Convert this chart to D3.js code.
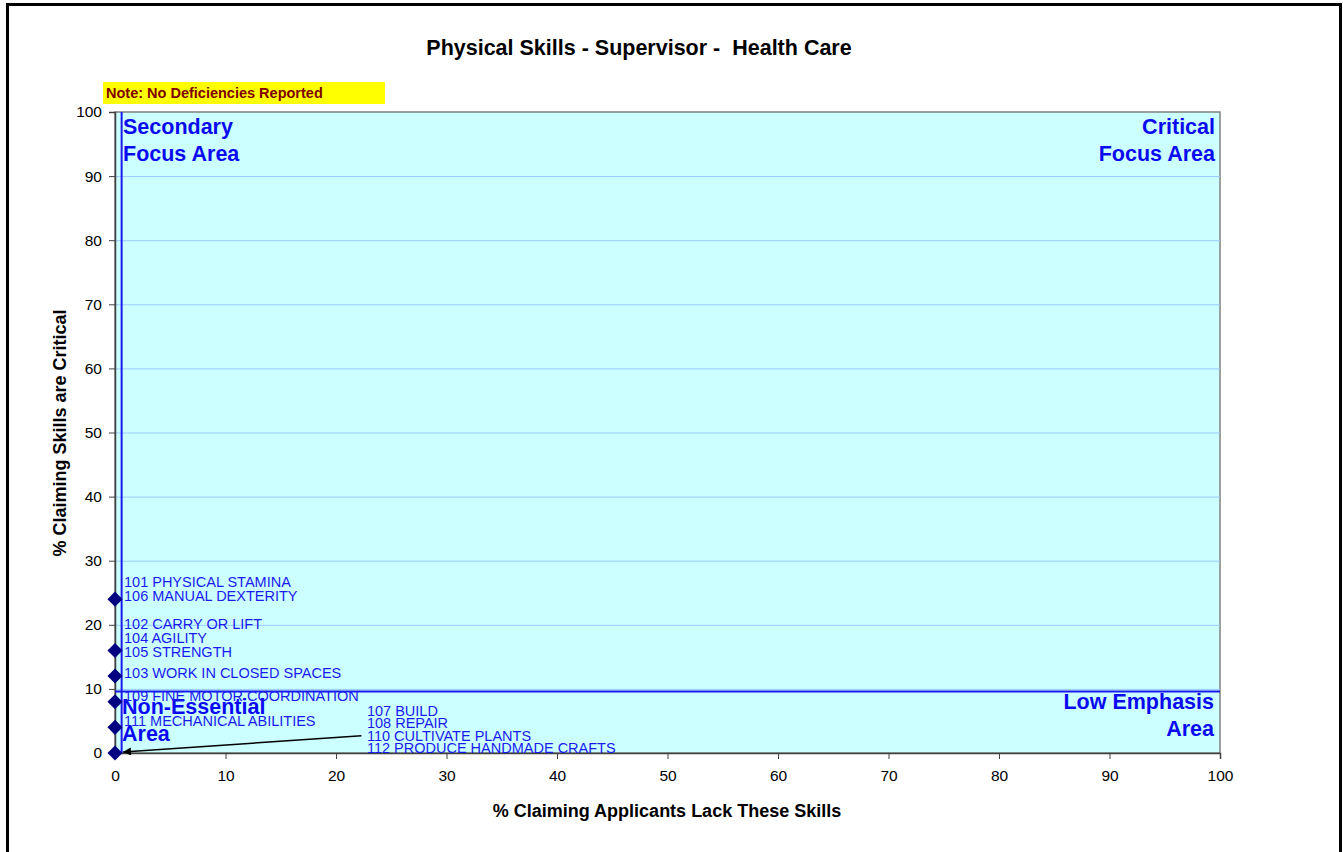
<!DOCTYPE html>
<html>
<head>
<meta charset="utf-8">
<script src="https://cdn.jsdelivr.net/npm/d3@7"></script>
<style>
  body { margin: 0; background: #fff; }
  svg text { font-family: "Liberation Sans", Arial, sans-serif; }
</style>
</head>
<body>
<svg id="chart" width="1343" height="852"></svg>
<script>
// skill data: code + name, % lacking (x), % critical (y)
const skillLabels = [
  "101 PHYSICAL STAMINA", "106 MANUAL DEXTERITY",
  "102 CARRY OR LIFT", "104 AGILITY", "105 STRENGTH",
  "103 WORK IN CLOSED SPACES",
  "109 FINE MOTOR COORDINATION",
  "111 MECHANICAL ABILITIES",
  "107 BUILD", "108 REPAIR", "110 CULTIVATE PLANTS", "112 PRODUCE HANDMADE CRAFTS"
];
const lackValues = [0, 0, 0, 0, 0, 0, 0, 0, 0, 0, 0, 0];
const criticalValues = [24, 24, 16, 16, 16, 12, 8, 4, 0, 0, 0, 0];

// quadrant dividers (averages)
const avgLack = 0.6;
const avgCritical = 9.6;

const xTicks = [0, 10, 20, 30, 40, 50, 60, 70, 80, 90, 100];
const yTicks = [0, 10, 20, 30, 40, 50, 60, 70, 80, 90, 100];

const chartTitle = "Physical Skills - Supervisor -  Health Care";
const noteText = "Note: No Deficiencies Reported";
const xTitle = "% Claiming Applicants Lack These Skills";
const yTitle = "% Claiming Skills are Critical";

const svg = d3.select("#chart");
const plot = { left: 115, right: 1220, top: 112, bottom: 753 };

const x = d3.scaleLinear().domain([0, 100]).range([plot.left, plot.right]);
const y = d3.scaleLinear().domain([0, 100]).range([plot.bottom, plot.top]);

// outer frame
svg.append("rect")
  .attr("x", 7.5).attr("y", 4.5)
  .attr("width", 1333).attr("height", 870)
  .attr("fill", "none").attr("stroke", "#000").attr("stroke-width", 3);

// title
svg.append("text")
  .attr("x", 639).attr("y", 55)
  .attr("text-anchor", "middle")
  .attr("font-size", 21.5).attr("font-weight", "bold")
  .style("white-space", "pre")
  .text(chartTitle);

// note box
svg.append("rect")
  .attr("x", 103).attr("y", 82).attr("width", 282).attr("height", 22)
  .attr("fill", "#ffff00");
svg.append("text")
  .attr("x", 106).attr("y", 98)
  .attr("font-size", 14.5).attr("font-weight", "bold")
  .attr("fill", "#800000")
  .text(noteText);

// plot background
svg.append("rect")
  .attr("x", plot.left).attr("y", plot.top)
  .attr("width", plot.right - plot.left).attr("height", plot.bottom - plot.top)
  .attr("fill", "#ccffff").attr("stroke", "#808080").attr("stroke-width", 1.5);

// gridlines
svg.append("g")
  .selectAll("line")
  .data(yTicks.filter(d => d > 0 && d < 100))
  .join("line")
  .attr("x1", plot.left).attr("x2", plot.right)
  .attr("y1", d => y(d) + 0.5).attr("y2", d => y(d) + 0.5)
  .attr("stroke", "#99ccff").attr("stroke-width", 1);

// axes
const xAxis = svg.append("g")
  .attr("transform", `translate(0,${plot.bottom})`)
  .call(d3.axisBottom(x).tickValues(xTicks).tickSize(6).tickPadding(11));
const yAxis = svg.append("g")
  .attr("transform", `translate(${plot.left},0)`)
  .call(d3.axisLeft(y).tickValues(yTicks).tickSize(6).tickPadding(7));

[xAxis, yAxis].forEach(g => {
  g.select(".domain").attr("stroke", "#404040").attr("stroke-width", 1.5);
  g.selectAll(".tick line").attr("stroke", "#404040");
  g.selectAll(".tick text")
    .attr("font-size", 15.5).attr("fill", "#000");
});

// quadrant divider lines
svg.append("line")
  .attr("x1", x(avgLack)).attr("x2", x(avgLack))
  .attr("y1", plot.top).attr("y2", plot.bottom)
  .attr("stroke", "#1a1aee").attr("stroke-width", 2);
svg.append("line")
  .attr("x1", plot.left).attr("x2", plot.right)
  .attr("y1", y(avgCritical)).attr("y2", y(avgCritical))
  .attr("stroke", "#1a1aee").attr("stroke-width", 2);

// quadrant labels
const quadColor = "#0a0af0";
function quadLabel(lines, xPos, yPos, anchor) {
  const t = svg.append("text")
    .attr("x", xPos).attr("y", yPos)
    .attr("text-anchor", anchor)
    .attr("font-size", 21.5).attr("font-weight", "bold")
    .attr("fill", quadColor);
  lines.forEach((l, i) => {
    t.append("tspan").attr("x", xPos).attr("dy", i === 0 ? 0 : 27).text(l);
  });
}
quadLabel(["Secondary", "Focus Area"], 123, 134, "start");
quadLabel(["Critical", "Focus Area"], 1215, 134, "end");
quadLabel(["Non-Essential", "Area"], 122, 714, "start");
quadLabel(["Low Emphasis", "Area"], 1214, 709, "end");

// group skills sharing a point
const points = d3.groups(
  skillLabels.map((name, i) => ({ name, lx: lackValues[i], ly: criticalValues[i] })),
  d => d.lx + "|" + d.ly
).map(([key, items]) => ({ lx: items[0].lx, ly: items[0].ly, items }));

// data labels
const labelColor = "#1a1aee";
const labelG = svg.append("g");
points.forEach(p => {
  const px = x(p.lx), py = y(p.ly);
  if (p.ly === 0) {
    // the crowded zero point gets a callout with an arrow
    const tx = x(22.8);
    const step = 12.4;
    p.items.forEach((d, i) => {
      labelG.append("text")
        .attr("x", tx).attr("y", py - (p.items.length - 1 - i) * step)
        .attr("font-size", 14.5).attr("fill", labelColor)
        .text(d.name);
    });
  } else {
    const step = 14;
    const nudge = p.ly <= 8 ? -3 : (p.ly === 16 ? 5 : 0);
    p.items.forEach((d, i) => {
      labelG.append("text")
        .attr("x", px + 9).attr("y", py + 2 + nudge - (p.items.length - 1 - i) * step)
        .attr("font-size", 14.5).attr("fill", labelColor)
        .text(d.name);
    });
  }
});

// arrow for zero point
svg.append("defs").append("marker")
  .attr("id", "arrow")
  .attr("viewBox", "0 0 10 10")
  .attr("refX", 10).attr("refY", 5)
  .attr("markerWidth", 10).attr("markerHeight", 8)
  .attr("markerUnits", "userSpaceOnUse")
  .attr("orient", "auto")
  .append("path").attr("d", "M0,0 L10,5 L0,10 Z").attr("fill", "#000");
svg.append("line")
  .attr("x1", x(22.3)).attr("y1", y(2.7))
  .attr("x2", x(0) + 8).attr("y2", y(0) - 1)
  .attr("stroke", "#000").attr("stroke-width", 1.5)
  .attr("marker-end", "url(#arrow)");

// markers
svg.append("g")
  .selectAll("path")
  .data(points)
  .join("path")
  .attr("transform", d => `translate(${x(d.lx)},${y(d.ly)})`)
  .attr("d", d3.symbol().type(d3.symbolDiamond2).size(145))
  .attr("fill", "#000080");

// axis titles
svg.append("text")
  .attr("x", 667).attr("y", 817)
  .attr("text-anchor", "middle")
  .attr("font-size", 18).attr("font-weight", "bold")
  .text(xTitle);
svg.append("text")
  .attr("transform", `translate(66,433) rotate(-90)`)
  .attr("text-anchor", "middle")
  .attr("font-size", 18).attr("font-weight", "bold")
  .text(yTitle);
</script>
</body>
</html>
